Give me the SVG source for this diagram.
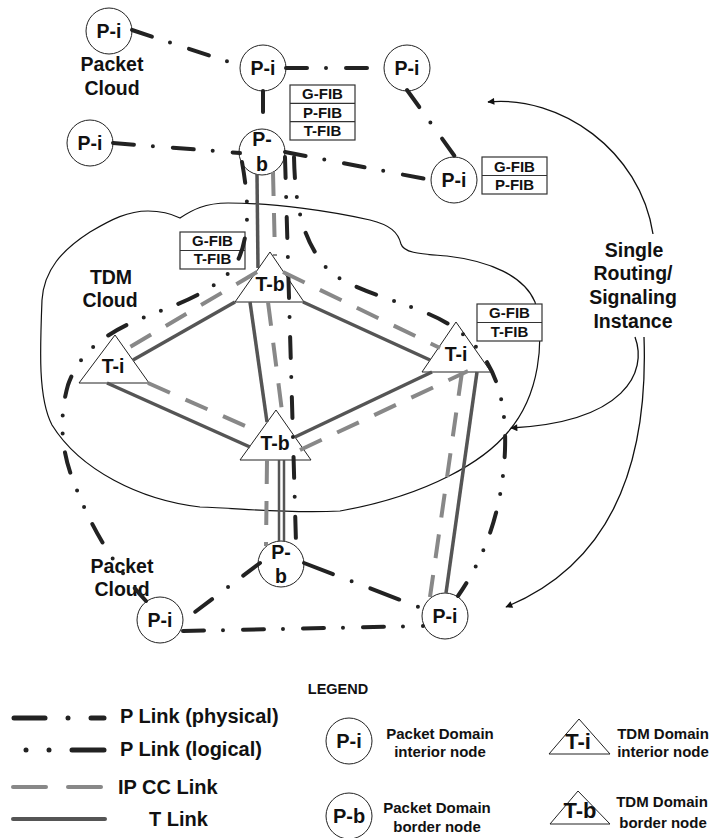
<svg xmlns="http://www.w3.org/2000/svg" width="712" height="838" viewBox="0 0 712 838">
<defs>
<style>
text{font-family:"Liberation Sans",Arial,Helvetica,sans-serif;font-weight:bold;fill:#111;text-anchor:middle}
.nl{font-size:19.5px}
.fib{font-size:15px}
.lg{font-size:20px;text-anchor:start}
.ls{font-size:15px}
.shape{fill:#fff;stroke:#222;stroke-width:1}
.box{fill:#fff;stroke:#333;stroke-width:1.2}
.div{stroke:#333;stroke-width:1.2}
.phys{fill:none;stroke:#222;stroke-width:4;stroke-linecap:round;stroke-dasharray:21 19 0 20}
.logi{fill:none;stroke:#222;stroke-width:4;stroke-linecap:round;stroke-dasharray:21 19 0 18 0 19}
.ipcc{fill:none;stroke:#888;stroke-width:4;stroke-dasharray:24 17}
.tl{fill:none;stroke:#555;stroke-width:3.5}
.arr{fill:none;stroke:#111;stroke-width:1.3;marker-end:url(#ah)}
.cloud{fill:none;stroke:#111;stroke-width:1.2}
</style>
<marker id="ah" viewBox="0 0 10 10" refX="9" refY="5" markerWidth="11" markerHeight="7" markerUnits="userSpaceOnUse" orient="auto">
<path d="M0,0 L10,5 L0,10 Z" fill="#111"/>
</marker>
</defs>
<rect width="712" height="838" fill="#fff"/>

<g id="tdm-cloud">
<path class="cloud" d="M180,218 C192,210 205,203 228,203 C275,203 330,211 370,220 C390,225 398,232 401,244 C404,254 425,254 447,256 C490,261 524,276 535,302 C545,340 540,395 508,432 C485,460 430,495 340,511 C285,514 240,508 200,507 C140,500 80,470 52,425 C38,398 40,350 42,300 C44,270 62,250 90,232 C112,219 128,211 148,211 C162,211 172,214 180,218 Z"/>
<text class="nl" x="111" y="284">TDM</text>
<text class="nl" x="110" y="307">Cloud</text>
</g>
<g id="packet-cloud-top"><text class="nl" x="112" y="71">Packet</text><text class="nl" x="112" y="95">Cloud</text></g>
<g id="packet-cloud-bottom"><text class="nl" x="122" y="573">Packet</text><text class="nl" x="122" y="596">Cloud</text></g>
<g id="single-instance">
<text class="nl" x="634" y="257">Single</text>
<text class="nl" x="633" y="280">Routing/</text>
<text class="nl" x="633" y="304">Signaling</text>
<text class="nl" x="633" y="328">Instance</text>
</g>

<g id="pi-tl"><circle class="shape" cx="109" cy="31" r="23"/><text class="nl" x="109" y="38">P-i</text></g>
<g id="pi-tm"><circle class="shape" cx="263" cy="68" r="23"/><text class="nl" x="263" y="75">P-i</text></g>
<g id="pi-tr"><circle class="shape" cx="407" cy="68" r="23"/><text class="nl" x="407" y="75">P-i</text></g>
<g id="pi-l"><circle class="shape" cx="90" cy="143" r="23"/><text class="nl" x="90" y="150">P-i</text></g>
<g id="pb-t"><circle class="shape" cx="262" cy="152" r="23"/><text class="nl" x="262" y="146">P-</text><text class="nl" x="262" y="171">b</text></g>
<g id="pi-r"><circle class="shape" cx="454" cy="180" r="23"/><text class="nl" x="454" y="187">P-i</text></g>
<g id="tb-t"><polygon class="shape" points="270,252 235,302 304,302"/><text class="nl" x="270" y="291">T-b</text></g>
<g id="ti-l"><polygon class="shape" points="115,335 79,383 149,383"/><text class="nl" x="113" y="373">T-i</text></g>
<g id="tb-b"><polygon class="shape" points="276,410 240,460 311,460"/><text class="nl" x="275" y="450">T-b</text></g>
<g id="ti-r"><polygon class="shape" points="456,322 422,372 491,372"/><text class="nl" x="456" y="361">T-i</text></g>
<g id="pb-b"><circle class="shape" cx="281" cy="564" r="23"/><text class="nl" x="281" y="559">P-</text><text class="nl" x="281" y="583">b</text></g>
<g id="pi-bl"><circle class="shape" cx="160" cy="620" r="23"/><text class="nl" x="160" y="627">P-i</text></g>
<g id="pi-br"><circle class="shape" cx="445" cy="616" r="23"/><text class="nl" x="445" y="623">P-i</text></g>

<g id="fib-pb-t"><rect class="box" x="290" y="85" width="65" height="55"/><line class="div" x1="290" y1="103.3" x2="355" y2="103.3"/><line class="div" x1="290" y1="121.7" x2="355" y2="121.7"/>
<text class="fib" x="322.5" y="99">G-FIB</text><text class="fib" x="322.5" y="118">P-FIB</text><text class="fib" x="322.5" y="136">T-FIB</text></g>
<g id="fib-pi-r"><rect class="box" x="482" y="157" width="65" height="37"/><line class="div" x1="482" y1="175.5" x2="547" y2="175.5"/>
<text class="fib" x="514.5" y="172">G-FIB</text><text class="fib" x="514.5" y="190">P-FIB</text></g>
<g id="fib-tb-t"><rect class="box" x="180" y="232" width="65" height="37"/><line class="div" x1="180" y1="250.5" x2="245" y2="250.5"/>
<text class="fib" x="212.5" y="246">G-FIB</text><text class="fib" x="212.5" y="264">T-FIB</text></g>
<g id="fib-ti-r"><rect class="box" x="477" y="304" width="65" height="37"/><line class="div" x1="477" y1="322.5" x2="542" y2="322.5"/>
<text class="fib" x="509.5" y="318">G-FIB</text><text class="fib" x="509.5" y="337">T-FIB</text></g>

<g id="connectors">
<path class="phys" d="M132,30 L241,66"/>
<path class="phys" d="M286,68 L384,68"/>
<path class="phys" d="M263,91 L263,129"/>
<path class="phys" d="M113,143 L240,153"/>
<path class="phys" d="M407,90 L456,158"/>
<path class="phys" d="M285,152 L431,180"/>
<path class="phys" d="M285,157 L296,543"/>
<path class="logi" d="M242,162 C247,190 252,230 238,260 C225,285 190,300 150,315 C110,330 80,350 68,385 C58,420 62,455 75,485 C90,525 113,565 146,601"/>
<path class="logi" d="M294,157 C295,200 300,240 330,272 C360,295 420,305 450,325 C490,350 507,390 505,450 C503,500 490,550 458,596"/>
<path class="tl" d="M257,174 L258,268"/>
<path class="tl" d="M235,302 L133,360"/>
<path class="tl" d="M107,383 L250,447"/>
<path class="tl" d="M250,302 L267,422"/>
<path class="tl" d="M303,302 L430,360"/>
<path class="tl" d="M295,437 L432,372"/>
<path class="tl" d="M477,372 L446,593"/>
<path class="tl" style="stroke-width:2.5" d="M279,460 L279,541"/>
<path class="tl" style="stroke-width:2.5" d="M284,460 L284,541"/>
<path class="ipcc" d="M273,172 L275,256"/>
<path class="ipcc" d="M257,272 L125,350"/>
<path class="ipcc" d="M148,383 L252,429"/>
<path class="ipcc" d="M268,302 L283,419"/>
<path class="ipcc" d="M283,272 L440,348"/>
<path class="ipcc" d="M300,450 L468,371"/>
<path class="ipcc" d="M462,372 L430,597"/>
<path class="ipcc" d="M267,460 L266,546"/>
<path class="phys" d="M260,563 L183,621"/>
<path class="phys" style="stroke-dasharray:31 20 0 20" d="M304,563 L424,609"/>
<path class="phys" d="M183,631 L423,626"/>
<path class="arr" d="M653,234 C640,150 560,95 488,102"/>
<path class="arr" d="M635,337 C648,372 625,422 511,428"/>
<path class="arr" d="M644,337 C648,450 620,560 506,607"/>
</g>

<g id="legend">
<text class="ls" style="font-size:14.5px" x="338" y="694">LEGEND</text>
<g stroke="#222" stroke-width="5" stroke-linecap="round">
<line x1="14" y1="718" x2="45" y2="718"/><line x1="68" y1="718" x2="68" y2="718"/><line x1="91" y1="718" x2="104" y2="718"/>
<line x1="26" y1="750" x2="26" y2="750"/><line x1="49" y1="750" x2="49" y2="750"/><line x1="72" y1="750" x2="104" y2="750"/>
</g>
<g stroke="#888" stroke-width="4" stroke-linecap="round"><line x1="13" y1="787" x2="46" y2="787"/><line x1="68" y1="787" x2="101" y2="787"/></g>
<line x1="13" y1="819" x2="105" y2="819" stroke="#555" stroke-width="4" stroke-linecap="round"/>
<text class="lg" x="120" y="723">P Link (physical)</text>
<text class="lg" x="120" y="756">P Link (logical)</text>
<text class="lg" x="118" y="794">IP CC Link</text>
<text class="lg" x="149" y="826">T Link</text>
<g id="lg-pi"><circle class="shape" cx="349" cy="741" r="23"/><text class="nl" style="font-size:20px" x="349" y="748">P-i</text></g>
<text class="ls" x="440" y="739">Packet Domain</text><text class="ls" x="440" y="757">interior node</text>
<g id="lg-pb"><circle class="shape" cx="349" cy="816" r="23"/><text class="nl" style="font-size:20px" x="349" y="823">P-b</text></g>
<text class="ls" x="437" y="813">Packet Domain</text><text class="ls" x="437" y="832">border node</text>
<g id="lg-ti"><polygon class="shape" points="579,719 549,754 610,754"/><text class="nl" style="font-size:22px" x="578" y="749">T-i</text></g>
<text class="ls" x="663" y="739">TDM Domain</text><text class="ls" x="663" y="757">interior node</text>
<g id="lg-tb"><polygon class="shape" points="578,791 550,824 610,824"/><text class="nl" style="font-size:22px" x="580" y="818">T-b</text></g>
<text class="ls" x="662" y="807">TDM Domain</text><text class="ls" x="663" y="828">border node</text>
</g>
</svg>
